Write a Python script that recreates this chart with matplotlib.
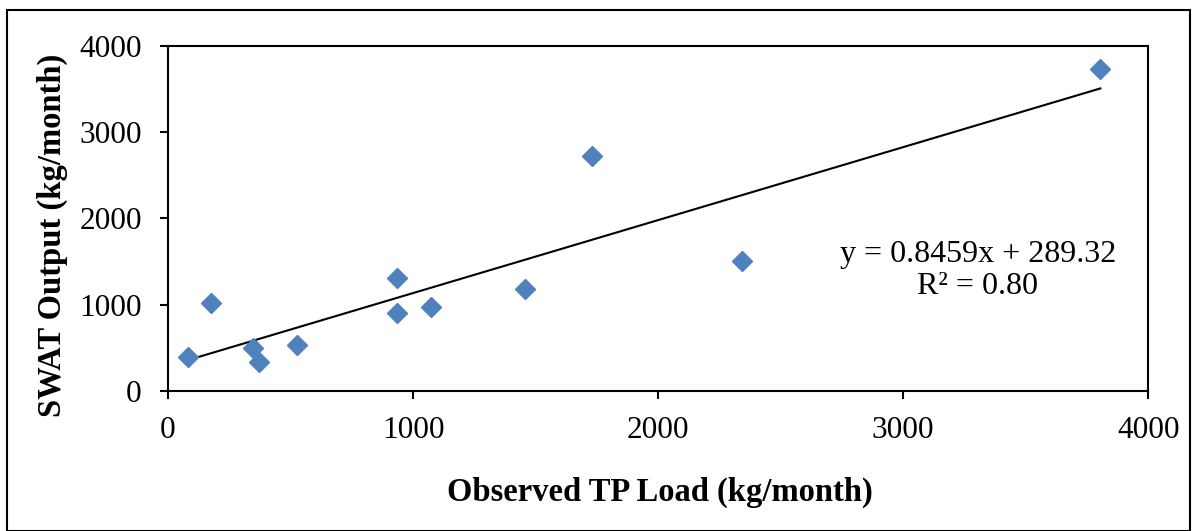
import matplotlib
matplotlib.use('Agg')
import matplotlib.pyplot as plt
import numpy as np

plt.rcParams['font.family'] = ['Liberation Serif', 'DejaVu Serif']

# observed vs simulated TP load (kg/month)
observed = [83, 174, 348, 371, 525, 936, 936, 1073, 1457, 1732, 2342, 3805]
swat = [390, 1017, 495, 340, 533, 1307, 901, 977, 1183, 2728, 1511, 3733]

# linear trendline as reported
slope = 0.8459
intercept = 289.32
eq_text = 'y = 0.8459x + 289.32'
r2_text = 'R² = 0.80'

ticks = [0, 1000, 2000, 3000, 4000]

fig = plt.figure(figsize=(11.96, 5.31), dpi=100)
ax = fig.add_axes([0.1405, 0.2637, 0.8195, 0.6497])

ax.plot(observed, swat, 'D', color='#4F81BD', markersize=10.5, zorder=3)

xl = np.array([min(observed), max(observed)])
ax.plot(xl, slope * xl + intercept, color='black', linewidth=1.5, zorder=2)

ax.text(3305, 1577, eq_text, ha='center', va='center', fontsize=23)
ax.text(3305, 1210, r2_text, ha='center', va='center', fontsize=23)

ax.set_xlim(0, 4000)
ax.set_ylim(0, 4000)
ax.set_xticks(ticks)
ax.set_yticks(ticks)
ax.tick_params(direction='out', length=6, width=1.5, labelsize=22.5, pad=12)
ax.tick_params(axis='y', pad=13)
for sp in ax.spines.values():
    sp.set_linewidth(1.5)

ax.set_xlabel('Observed TP Load (kg/month)', fontsize=23.5, fontweight='bold')
ax.set_ylabel('SWAT Output (kg/month)', fontsize=23.5, fontweight='bold')
ax.xaxis.set_label_coords(0.502, -0.25)
ax.yaxis.set_label_coords(-0.102, 0.452)

# outer border around the chart area
border = plt.Rectangle((0.006, 0.0), 0.989, 0.982, transform=fig.transFigure,
                       fill=False, edgecolor='black', linewidth=1.5)
fig.patches.append(border)

fig.savefig('out.png', dpi=100)
